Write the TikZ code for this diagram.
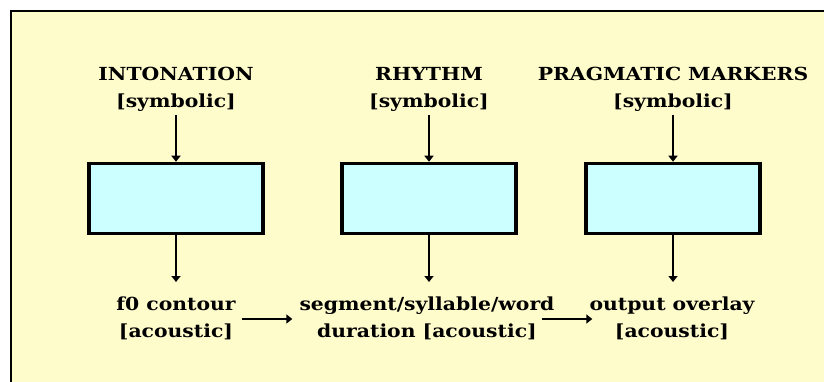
\documentclass[tikz,border=0pt]{standalone}
\usepackage{fontspec}
\setmainfont{DejaVu Serif}[FakeStretch=1.13]
\usetikzlibrary{arrows.meta}
\definecolor{bgyel}{HTML}{FFFCCC}
\definecolor{boxcyan}{HTML}{CCFFFF}
\tikzset{
  lbl/.style={font=\fontsize{18}{27}\selectfont\bfseries, align=center, inner sep=0pt},
  proc/.style={draw=black, line width=3.5pt, fill=boxcyan, minimum width=174pt, minimum height=70pt, inner sep=0pt},
  arr/.style={line width=1.8pt, -{Triangle[width=9pt,length=6pt]}}
}
\begin{document}
\begin{tikzpicture}[x=1pt,y=-1pt]
\useasboundingbox (0,0) rectangle (824,382);
\fill[bgyel] (11,11) rectangle (824,382);
\draw[line width=1.5pt] (824,11) -- (11,11) -- (11,382);
% top labels
\node[lbl] (t1) at (176,89) {INTONATION\\{}[symbolic]};
\node[lbl] (t2) at (429,89) {RHYTHM\\{}[symbolic]};
\node[lbl] (t3) at (673,89) {PRAGMATIC MARKERS\\{}[symbolic]};
% boxes
\node[proc] (b1) at (176,198.5) {};
\node[proc] (b2) at (429,198.5) {};
\node[proc] (b3) at (673,198.5) {};
% bottom labels
\node[lbl] (o1) at (176,318) {f0 contour\\{}[acoustic]};
\node[lbl] (o2) at (427,318) {segment/syllable/word\\duration [acoustic]};
\node[lbl] (o3) at (672,318) {output overlay\\{}[acoustic]};
% arrows
\foreach \i in {1,2,3}{
  \draw[arr] (t\i.south |- 0,115) -- (b\i.north);
  \draw[arr] (b\i.south) -- (b\i.south |- 0,282);
}
\draw[arr] ([xshift=6pt,yshift=-1pt]o1.east) -- ([xshift=-7pt,yshift=-1pt]o2.west);
\draw[arr] ([xshift=-13pt,yshift=-1pt]o2.east) -- ([xshift=3pt,yshift=-1pt]o3.west);
\end{tikzpicture}
\end{document}
